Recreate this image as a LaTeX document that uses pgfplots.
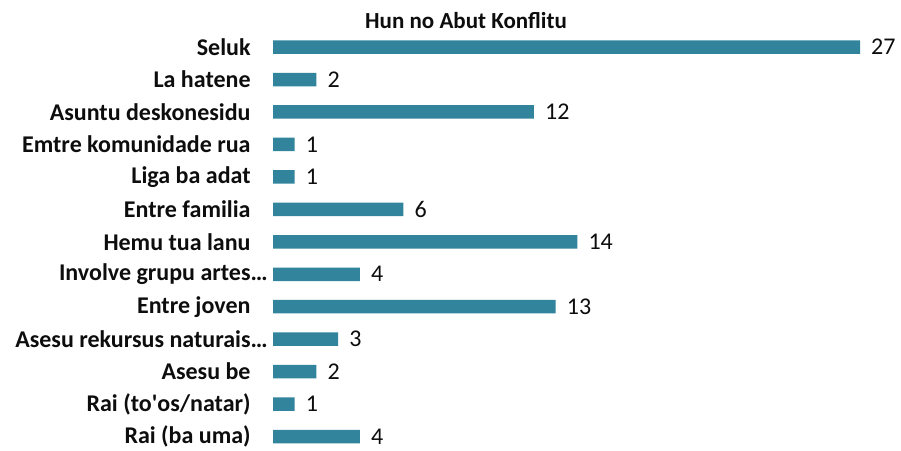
\documentclass[border=0pt]{standalone}
\usepackage{pgfplots}
\pgfplotsset{compat=1.18}
\usepackage{fontspec}
\setmainfont{Carlito}
\definecolor{bar}{RGB}{49,132,155}
\definecolor{txt}{RGB}{13,13,13}
\begin{document}
\begin{tikzpicture}
\useasboundingbox (0,0) rectangle (901bp,451bp);
\begin{axis}[
  at={(273bp,1.5bp)}, anchor=south west,
  scale only axis, width=587bp, height=415.4bp,
  xmin=0, xmax=27, ymin=-0.4, ymax=12.4,
  enlargelimits=false, clip=false,
  /pgf/number format/assume math mode=true,
  axis x line=none,
  axis y line*=left,
  y axis line style={draw=none},
  ytick style={draw=none},
  ytick={0,...,12},
  yticklabels={Rai (ba uma),Rai (to\textquotesingle os/natar),Asesu be,Asesu rekursus naturais\rlap{…},Entre joven,Involve grupu artes\rlap{…},Hemu tua lanu,Entre familia,Liga ba adat,Emtre komunidade rua,Asuntu deskonesidu,La hatene,Seluk},
  yticklabel style={font=\fontsize{24bp}{26bp}\selectfont\bfseries, text=txt, anchor=east, inner sep=0pt, xshift=-18bp},
  xbar, bar width=13.5bp,
  nodes near coords,
  nodes near coords style={font=\fontsize{24bp}{26bp}\selectfont, text=txt, anchor=west, inner sep=0pt, xshift=11bp},
]
\addplot[fill=bar, draw=none] coordinates {
(4,0) (1,1) (2,2) (3,3) (13,4) (4,5) (14,6) (6,7) (1,8) (1,9) (12,10) (2,11) (27,12)};
\end{axis}
\node[font=\fontsize{23bp}{25bp}\selectfont\bfseries, text=txt] at (466bp,430bp) {Hun no Abut Konflitu};
\end{tikzpicture}
\end{document}
